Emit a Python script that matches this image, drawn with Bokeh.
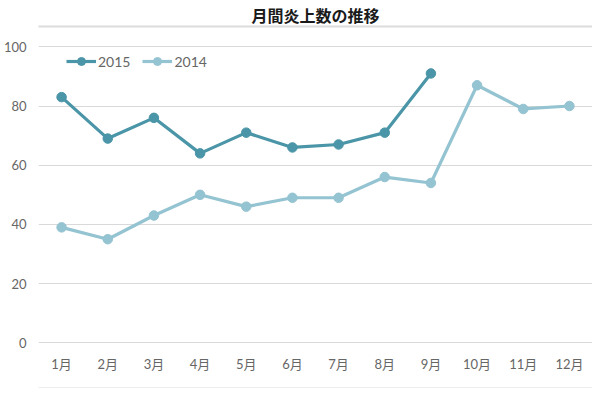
from bokeh.plotting import figure
from bokeh.models import Range1d, FactorRange, Legend, LegendItem, FixedTicker, CategoricalAxis
from bokeh.embed import file_html
from bokeh.resources import INLINE

months = ["1月", "2月", "3月", "4月", "5月", "6月", "7月", "8月", "9月", "10月", "11月", "12月"]
months_2015 = months[:9]
y2015 = [83, 69, 76, 64, 71, 66, 67, 71, 91]
y2014 = [39, 35, 43, 50, 46, 49, 49, 56, 54, 87, 79, 80]
yticks = [0, 20, 40, 60, 80, 100]
title_text = "月間炎上数の推移"

c2015 = "#4a95a7"
c2014 = "#94c3d1"
SEP = "#dcdcdc"
FONT = "Lato, 'Noto Sans CJK JP', sans-serif"

p = figure(frame_width=554, frame_height=319, x_range=FactorRange(*months), y_range=Range1d(-0.91, 106.86),
           output_backend="svg", toolbar_location=None,
           min_border_left=34, min_border_right=0, min_border_top=0, min_border_bottom=0)
p.outline_line_color = None
p.background_fill_color = "white"

p.title.text = title_text
p.title.align = "center"
p.title.text_font = "'Noto Sans CJK JP'"
p.title.text_font_size = "16px"
p.title.text_font_style = "bold"
p.title.text_color = "#1a1a1a"
p.title.standoff = 0

p.xgrid.grid_line_color = None
p.ygrid.grid_line_color = "#d9d9d9"
p.ygrid.grid_line_width = 1
p.yaxis.ticker = FixedTicker(ticks=yticks)

for ax in (p.xaxis[0], p.yaxis[0]):
    ax.axis_line_color = None
    ax.major_tick_line_color = None
    ax.minor_tick_line_color = None
    ax.major_tick_out = 0
    ax.major_tick_in = 0
    ax.major_label_text_font = FONT
    ax.major_label_text_font_size = "13px"
    ax.major_label_text_color = "#666666"
p.yaxis.major_label_standoff = 12
p.xaxis.major_label_standoff = 10
p.xaxis.axis_label = " "
p.xaxis.axis_label_text_font_size = "10px"
p.xaxis.axis_label_standoff = 0

# separator lines (top under title, bottom under the month labels)
for side in ("above", "below"):
    sep = CategoricalAxis(ticker=FixedTicker(ticks=[]), axis_line_color=SEP, axis_line_width=2,
                          major_tick_line_color=None, minor_tick_line_color=None,
                          major_tick_out=0, major_tick_in=0, major_label_standoff=0)
    p.add_layout(sep, side)

r15l = p.line(months_2015, y2015, line_color=c2015, line_width=3.2)
r15c = p.scatter(months_2015, y2015, size=9.5, fill_color=c2015, line_color=c2015)
r14l = p.line(months, y2014, line_color=c2014, line_width=3.2)
r14c = p.scatter(months, y2014, size=9.5, fill_color=c2014, line_color=c2014)

legend = Legend(items=[LegendItem(label="2015", renderers=[r15l, r15c]),
                       LegendItem(label="2014", renderers=[r14l, r14c])],
                orientation="horizontal", location=(28, 319 - 35 - 10),
                border_line_color=None, background_fill_alpha=0,
                padding=0, margin=0, spacing=12, label_standoff=2,
                glyph_width=30, glyph_height=20,
                label_text_font=FONT, label_text_font_size="14px", label_text_color="#666666")
p.add_layout(legend)

open("out.html", "w").write(file_html(p, INLINE))
